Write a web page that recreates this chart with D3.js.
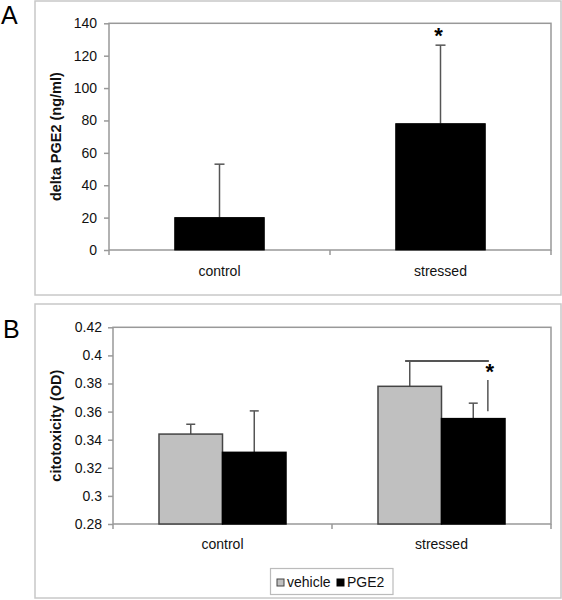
<!DOCTYPE html>
<html><head><meta charset="utf-8">
<script src="https://cdn.jsdelivr.net/npm/d3@7"></script>
<style>body{margin:0;background:#fff}svg{display:block;font-family:"Liberation Sans",Arial,sans-serif}</style>
</head><body>
<svg id="c" width="562" height="600"></svg>
<script>
// Panel A data
const categoriesA = ["control", "stressed"];
const valuesA = [20, 78];
const errorsA = [33, 48.5];
const ticksA = [0, 20, 40, 60, 80, 100, 120, 140];
// Panel B data
const categoriesB = ["control", "stressed"];
const seriesB = ["vehicle", "PGE2"];
const vehicleB = [0.344, 0.378];
const pge2B = [0.331, 0.355];
const vehicleErrB = [0.007, 0.018];
const pge2ErrB = [0.0295, 0.011];
const ticksB = [0.28, 0.30, 0.32, 0.34, 0.36, 0.38, 0.40, 0.42];

const svg = d3.select("#c");
const axisGray = "#999";
const errColor = "#555";

// frames
svg.append("rect").attr("x",35).attr("y",1).attr("width",526).attr("height",294)
  .attr("fill","none").attr("stroke","#c8c8c8").attr("stroke-width",1.5);
svg.append("rect").attr("x",35).attr("y",304).attr("width",526).attr("height",294)
  .attr("fill","none").attr("stroke","#c8c8c8").attr("stroke-width",1.5);

svg.append("text").attr("x",1).attr("y",24).attr("font-size",25).text("A");
svg.append("text").attr("x",3).attr("y",338).attr("font-size",25).text("B");

// ---------- Panel A ----------
const A = {l:109, r:551, t:23.3, b:250};
const xA = d3.scaleBand().domain(categoriesA).range([A.l, A.r]);
const yA = d3.scaleLinear().domain([0,140]).range([A.b, A.t]);
const gA = svg.append("g");
gA.append("rect").attr("x",A.l).attr("y",A.t).attr("width",A.r-A.l).attr("height",A.b-A.t)
  .attr("fill","none").attr("stroke",axisGray).attr("stroke-width",1.5);
const axA = gA.append("g").attr("transform",`translate(${A.l},0)`)
  .call(d3.axisLeft(yA).tickValues(ticksA).tickSize(5).tickPadding(7).tickFormat(d3.format("d")));
axA.select(".domain").remove();
axA.selectAll(".tick line").attr("stroke",axisGray).attr("stroke-width",1.5);
axA.selectAll(".tick text").attr("font-size",14).attr("fill","#111").attr("font-family","Liberation Sans, Arial");
// bottom ticks at band boundaries
const bA = [A.l, ...categoriesA.map(c=>xA(c)+xA.bandwidth())];
gA.selectAll(".bt").data(bA).join("line").attr("x1",d=>d).attr("x2",d=>d).attr("y1",A.b).attr("y2",A.b+5)
  .attr("stroke",axisGray).attr("stroke-width",1.5);
const bwA = xA.bandwidth()*0.405;
// error bars A
categoriesA.forEach((c,i)=>{
  const cx = xA(c)+xA.bandwidth()/2;
  gA.append("line").attr("x1",cx).attr("x2",cx).attr("y1",yA(valuesA[i])).attr("y2",yA(valuesA[i]+errorsA[i]))
    .attr("stroke",errColor).attr("stroke-width",1.5);
  gA.append("line").attr("x1",cx-5).attr("x2",cx+5).attr("y1",yA(valuesA[i]+errorsA[i])).attr("y2",yA(valuesA[i]+errorsA[i]))
    .attr("stroke",errColor).attr("stroke-width",1.5);
});
gA.selectAll(".bar").data(categoriesA).join("rect")
  .attr("x",c=>xA(c)+xA.bandwidth()/2-bwA/2).attr("width",bwA)
  .attr("y",(c,i)=>yA(valuesA[i])).attr("height",(c,i)=>A.b-yA(valuesA[i]))
  .attr("fill","#000").attr("stroke","#000").attr("stroke-width",1);
gA.selectAll(".cl").data(categoriesA).join("text")
  .attr("x",c=>xA(c)+xA.bandwidth()/2).attr("y",276).attr("text-anchor","middle")
  .attr("font-size",14).attr("fill","#111").text(c=>c);
gA.append("text").attr("transform",`translate(61,${(A.t+A.b)/2}) rotate(-90)`).attr("text-anchor","middle")
  .attr("font-size",14.5).attr("font-weight","bold").attr("fill","#111").text("delta PGE2 (ng/ml)");
gA.append("text").attr("x",xA("stressed")+xA.bandwidth()/2-2).attr("y",yA(valuesA[1]+errorsA[1])-2)
  .attr("text-anchor","middle").attr("font-size",22).attr("font-weight","bold").text("*");

// ---------- Panel B ----------
const B = {l:113, r:551, t:327.3, b:524};
const xB = d3.scaleBand().domain(categoriesB).range([B.l, B.r]);
const x1 = d3.scaleBand().domain(seriesB).range([0, xB.bandwidth()*0.58]);
const off = xB.bandwidth()*0.21;
const yB = d3.scaleLinear().domain([0.28,0.42]).range([B.b, B.t]);
const gB = svg.append("g");
gB.append("rect").attr("x",B.l).attr("y",B.t).attr("width",B.r-B.l).attr("height",B.b-B.t)
  .attr("fill","none").attr("stroke",axisGray).attr("stroke-width",1.5);
const axB = gB.append("g").attr("transform",`translate(${B.l},0)`)
  .call(d3.axisLeft(yB).tickValues(ticksB).tickSize(5).tickPadding(6).tickFormat(d=>String(+d.toFixed(2))));
axB.select(".domain").remove();
axB.selectAll(".tick line").attr("stroke",axisGray).attr("stroke-width",1.5);
axB.selectAll(".tick text").attr("font-size",14).attr("fill","#111").attr("font-family","Liberation Sans, Arial");
const bB = [B.l, ...categoriesB.map(c=>xB(c)+xB.bandwidth())];
gB.selectAll(".bt").data(bB).join("line").attr("x1",d=>d).attr("x2",d=>d).attr("y1",B.b).attr("y2",B.b+5)
  .attr("stroke",axisGray).attr("stroke-width",1.5);

const seriesVals = {vehicle: vehicleB, PGE2: pge2B};
const seriesErr = {vehicle: vehicleErrB, PGE2: pge2ErrB};
const seriesFill = {vehicle: "#c0c0c0", PGE2: "#000"};
const seriesStroke = {vehicle: "#444", PGE2: "#000"};
categoriesB.forEach((c,i)=>{
  seriesB.forEach(s=>{
    const cx = xB(c)+off+x1(s)+x1.bandwidth()/2;
    const v = seriesVals[s][i], e = seriesErr[s][i];
    gB.append("line").attr("x1",cx).attr("x2",cx).attr("y1",yB(v)).attr("y2",yB(v+e))
      .attr("stroke",errColor).attr("stroke-width",1.5);
    gB.append("line").attr("x1",cx-4.5).attr("x2",cx+4.5).attr("y1",yB(v+e)).attr("y2",yB(v+e))
      .attr("stroke",errColor).attr("stroke-width",1.5);
  });
});
categoriesB.forEach((c,i)=>{
  seriesB.forEach(s=>{
    const v = seriesVals[s][i];
    gB.append("rect").attr("x",xB(c)+off+x1(s)).attr("width",x1.bandwidth())
      .attr("y",yB(v)).attr("height",B.b-yB(v))
      .attr("fill",seriesFill[s]).attr("stroke",seriesStroke[s]).attr("stroke-width",1.5);
  });
});
// significance bracket
const vx = xB("stressed")+off+x1("vehicle")+x1.bandwidth()/2;
const bx = xB("stressed")+off+x1("PGE2")+x1.bandwidth()*0.73;
const by = yB(vehicleB[1]+vehicleErrB[1]);
gB.append("line").attr("x1",vx-4.5).attr("x2",bx+1).attr("y1",by).attr("y2",by).attr("stroke",errColor).attr("stroke-width",2);
gB.append("line").attr("x1",bx).attr("x2",bx).attr("y1",yB(0.3825)).attr("y2",yB(0.3603)).attr("stroke",errColor).attr("stroke-width",1.5);
gB.append("text").attr("x",bx+2).attr("y",by+18).attr("text-anchor","middle")
  .attr("font-size",22).attr("font-weight","bold").text("*");

gB.selectAll(".cl").data(categoriesB).join("text")
  .attr("x",c=>xB(c)+xB.bandwidth()/2).attr("y",549).attr("text-anchor","middle")
  .attr("font-size",14).attr("fill","#111").text(c=>c);
gB.append("text").attr("transform",`translate(61,${(B.t+B.b)/2}) rotate(-90)`).attr("text-anchor","middle")
  .attr("font-size",14.5).attr("font-weight","bold").attr("fill","#111").text("citotoxicity (OD)");

// legend
const lg = gB.append("g");
lg.append("rect").attr("x",270.5).attr("y",568.5).attr("width",122.5).attr("height",26)
  .attr("fill","#fff").attr("stroke","#bbb").attr("stroke-width",1.2);
const legX = [277, 337];
seriesB.forEach((s,i)=>{
  lg.append("rect").attr("x",legX[i]).attr("y",579).attr("width",7).attr("height",7)
    .attr("fill",seriesFill[s]).attr("stroke",seriesStroke[s]).attr("stroke-width",1);
  lg.append("text").attr("x",legX[i]+10).attr("y",587).attr("font-size",14).attr("fill","#111").text(s);
});
</script>
</body></html>
